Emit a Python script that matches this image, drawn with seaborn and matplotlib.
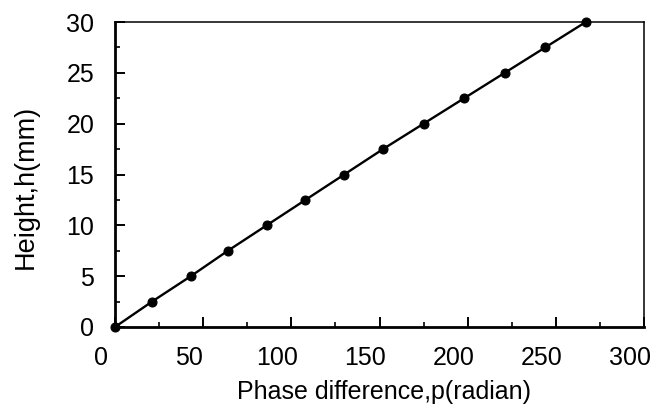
import matplotlib
matplotlib.use("Agg")
import matplotlib.pyplot as plt
import matplotlib.transforms as mtransforms
from matplotlib.ticker import MultipleLocator
import seaborn as sns
import pandas as pd

phase = [0, 21, 43, 64, 86, 108, 130, 152, 175, 198, 221, 244, 267]
height = [0, 2.5, 5, 7.5, 10, 12.5, 15, 17.5, 20, 22.5, 25, 27.5, 30]
x_ticks = [0, 50, 100, 150, 200, 250, 300]
y_ticks = [0, 5, 10, 15, 20, 25, 30]

sns.set_theme(style="ticks")
plt.rcParams['font.family'] = ['Liberation Sans', 'DejaVu Sans']

df = pd.DataFrame({"p": phase, "h": height})

fig = plt.figure(figsize=(6.64, 4.12), dpi=100)
ax = fig.add_axes([115/664, 1 - 327/412, (644 - 115)/664, (327 - 22)/412])

sns.lineplot(data=df, x="p", y="h", ax=ax, color="black", linewidth=1.7,
             marker="o", markersize=6.5, markeredgecolor="black",
             markerfacecolor="black", clip_on=False, zorder=5)

ax.set_xlim(0, 300)
ax.set_ylim(0, 30)
ax.set_xticks(x_ticks)
ax.set_yticks(y_ticks)
ax.xaxis.set_minor_locator(MultipleLocator(25))
ax.yaxis.set_minor_locator(MultipleLocator(2.5))

ax.tick_params(axis="both", which="major", direction="in", length=7,
               width=1.4, color="black", labelsize=18, labelcolor="black")
ax.tick_params(axis="both", which="minor", direction="in", length=3.5,
               width=1.2, color="black")
ax.tick_params(axis="x", which="major", pad=14)
ax.tick_params(axis="y", which="major", pad=15)

for side in ["left", "bottom"]:
    ax.spines[side].set_linewidth(2.0)
    ax.spines[side].set_color("black")
for side in ["top", "right"]:
    ax.spines[side].set_visible(True)
    ax.spines[side].set_linewidth(1.1)
    ax.spines[side].set_color("black")

offset = mtransforms.ScaledTranslation(-14/100, 0, fig.dpi_scale_trans)
for lab in ax.get_xticklabels():
    lab.set_transform(lab.get_transform() + offset)

ax.set_xlabel("")
ax.set_ylabel("")
fig.text(384/664, 1 - 392/412, "Phase difference,p(radian)", ha="center",
         va="center", fontsize=18, color="black")
fig.text(26/664, 1 - 187/412, "Height,h(mm)", ha="center", va="center",
         rotation=90, fontsize=19.5, color="black")

fig.savefig("out.png", dpi=100)
